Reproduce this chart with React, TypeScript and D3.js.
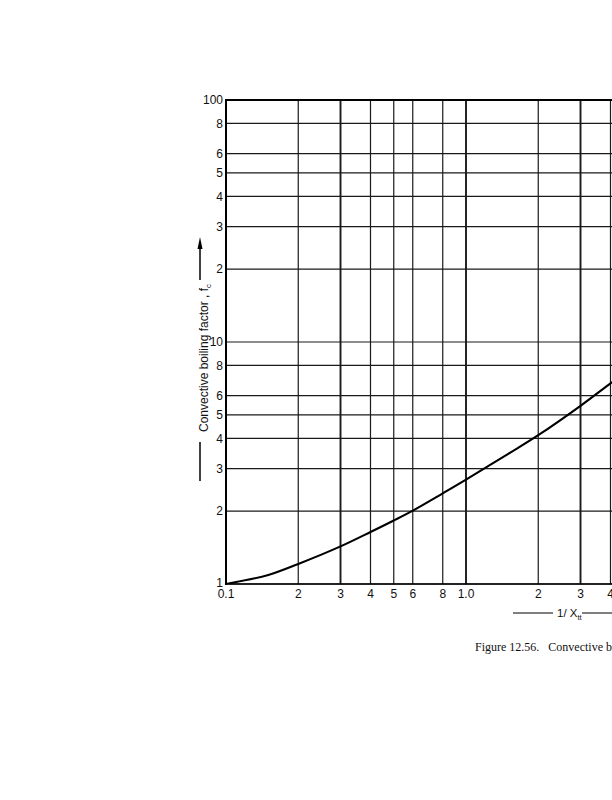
import React from "react";
import * as d3 from "d3";

const curveX = [0.1, 0.15, 0.2, 0.3, 0.4, 0.5, 0.6, 0.8, 1.0, 1.5, 2, 3, 4, 5];
const curveY = [1.0, 1.09, 1.21, 1.43, 1.64, 1.83, 2.01, 2.37, 2.7, 3.45, 4.12, 5.45, 6.75, 7.95];

const xGrid = [0.2, 0.3, 0.4, 0.5, 0.6, 0.8, 1.0, 2, 3, 4, 5, 6, 8];
const xTickVals = [0.1, 0.2, 0.3, 0.4, 0.5, 0.6, 0.8, 1.0, 2, 3, 4, 5, 6, 8];
const xTickLabels = ["0.1", "2", "3", "4", "5", "6", "8", "1.0", "2", "3", "4", "5", "6", "8"];
const xHeavy = [0.3, 1.0, 3];

const yTickVals = [1, 2, 3, 4, 5, 6, 8, 10, 20, 30, 40, 50, 60, 80, 100];
const yTickLabels = ["1", "2", "3", "4", "5", "6", "8", "10", "2", "3", "4", "5", "6", "8", "100"];

export default function App() {
  const x = d3.scaleLog().domain([0.1, 10]).range([226, 706]);
  const y = d3.scaleLog().domain([1, 100]).range([584, 100]);
  const pts: [number, number][] = curveX.map((v, i) => [x(v), y(curveY[i])]);
  const line = d3.line().curve(d3.curveCatmullRom.alpha(0.5))(pts) || "";
  const sans = "'Liberation Sans', Arial, sans-serif";

  return (
    <svg
      width={612}
      height={800}
      style={{ position: "absolute", left: 0, top: 0, background: "#fff" }}
    >
      <defs>
        <clipPath id="plotClip">
          <rect x={226} y={100} width={480} height={484} />
        </clipPath>
      </defs>
      <rect x={0} y={0} width={612} height={800} fill="#fff" />
      {/* horizontal grid */}
      {yTickVals.map((v) => (
        <line key={"h" + v} x1={226} x2={706} y1={y(v)} y2={y(v)} stroke="#1a1a1a" strokeWidth={1.2} />
      ))}
      {/* vertical grid */}
      {xGrid.map((v) => (
        <line
          key={"v" + v}
          x1={x(v)}
          x2={x(v)}
          y1={100}
          y2={584}
          stroke="#1a1a1a"
          strokeWidth={xHeavy.includes(v) ? 1.9 : 1.2}
        />
      ))}
      {/* frame */}
      <line x1={226} x2={226} y1={99} y2={585} stroke="#000" strokeWidth={2} />
      <line x1={225} x2={706} y1={100} y2={100} stroke="#000" strokeWidth={2} />
      <line x1={225} x2={706} y1={584} y2={584} stroke="#000" strokeWidth={1.6} />
      <line x1={706} x2={706} y1={100} y2={584} stroke="#000" strokeWidth={2} />
      {/* curve */}
      <path d={line} fill="none" stroke="#000" strokeWidth={2.1} clipPath="url(#plotClip)" />
      {/* y tick labels */}
      {yTickVals.map((v, i) => (
        <text
          key={"yl" + v}
          x={223}
          y={y(v) - (v === 1 ? 1 : 0)}
          dy="0.36em"
          textAnchor="end"
          fontFamily={sans}
          fontSize={12}
          fill="#111"
        >
          {yTickLabels[i]}
        </text>
      ))}
      {/* x tick labels */}
      {xTickVals.map((v, i) => (
        <text
          key={"xl" + v}
          x={x(v)}
          y={598}
          textAnchor="middle"
          fontFamily={sans}
          fontSize={12}
          fill="#111"
        >
          {xTickLabels[i]}
        </text>
      ))}
      {/* y axis title */}
      <g transform="translate(204,358) rotate(-90)">
        <text x={0} y={0} dy="0.35em" textAnchor="middle" fontFamily={sans} fontSize={12} fill="#111">
          Convective boiling factor , f
          <tspan fontSize={8} dy="3">c</tspan>
        </text>
      </g>
      <line x1={200} x2={200} y1={442} y2={481} stroke="#000" strokeWidth={1.5} />
      <line x1={200} x2={200} y1={246} y2={280} stroke="#000" strokeWidth={1.5} />
      <path d="M197.5,249 L200,237 L202.5,249 Z" fill="#000" />
      {/* x axis title */}
      <line x1={513} x2={553} y1={613} y2={613} stroke="#000" strokeWidth={1.2} />
      <text x={557} y={617} fontFamily={sans} fontSize={11.5} fill="#111">
        1/ X<tspan fontSize={7.5} dy="3">tt</tspan>
      </text>
      <line x1={582} x2={640} y1={613} y2={613} stroke="#000" strokeWidth={1.2} />
      {/* caption */}
      <text x={475} y={651} fontFamily="'Liberation Serif', 'Times New Roman', serif" fontSize={12} fill="#111" xmlSpace="preserve">
        Figure 12.56.   Convective boiling factor
      </text>
    </svg>
  );
}
